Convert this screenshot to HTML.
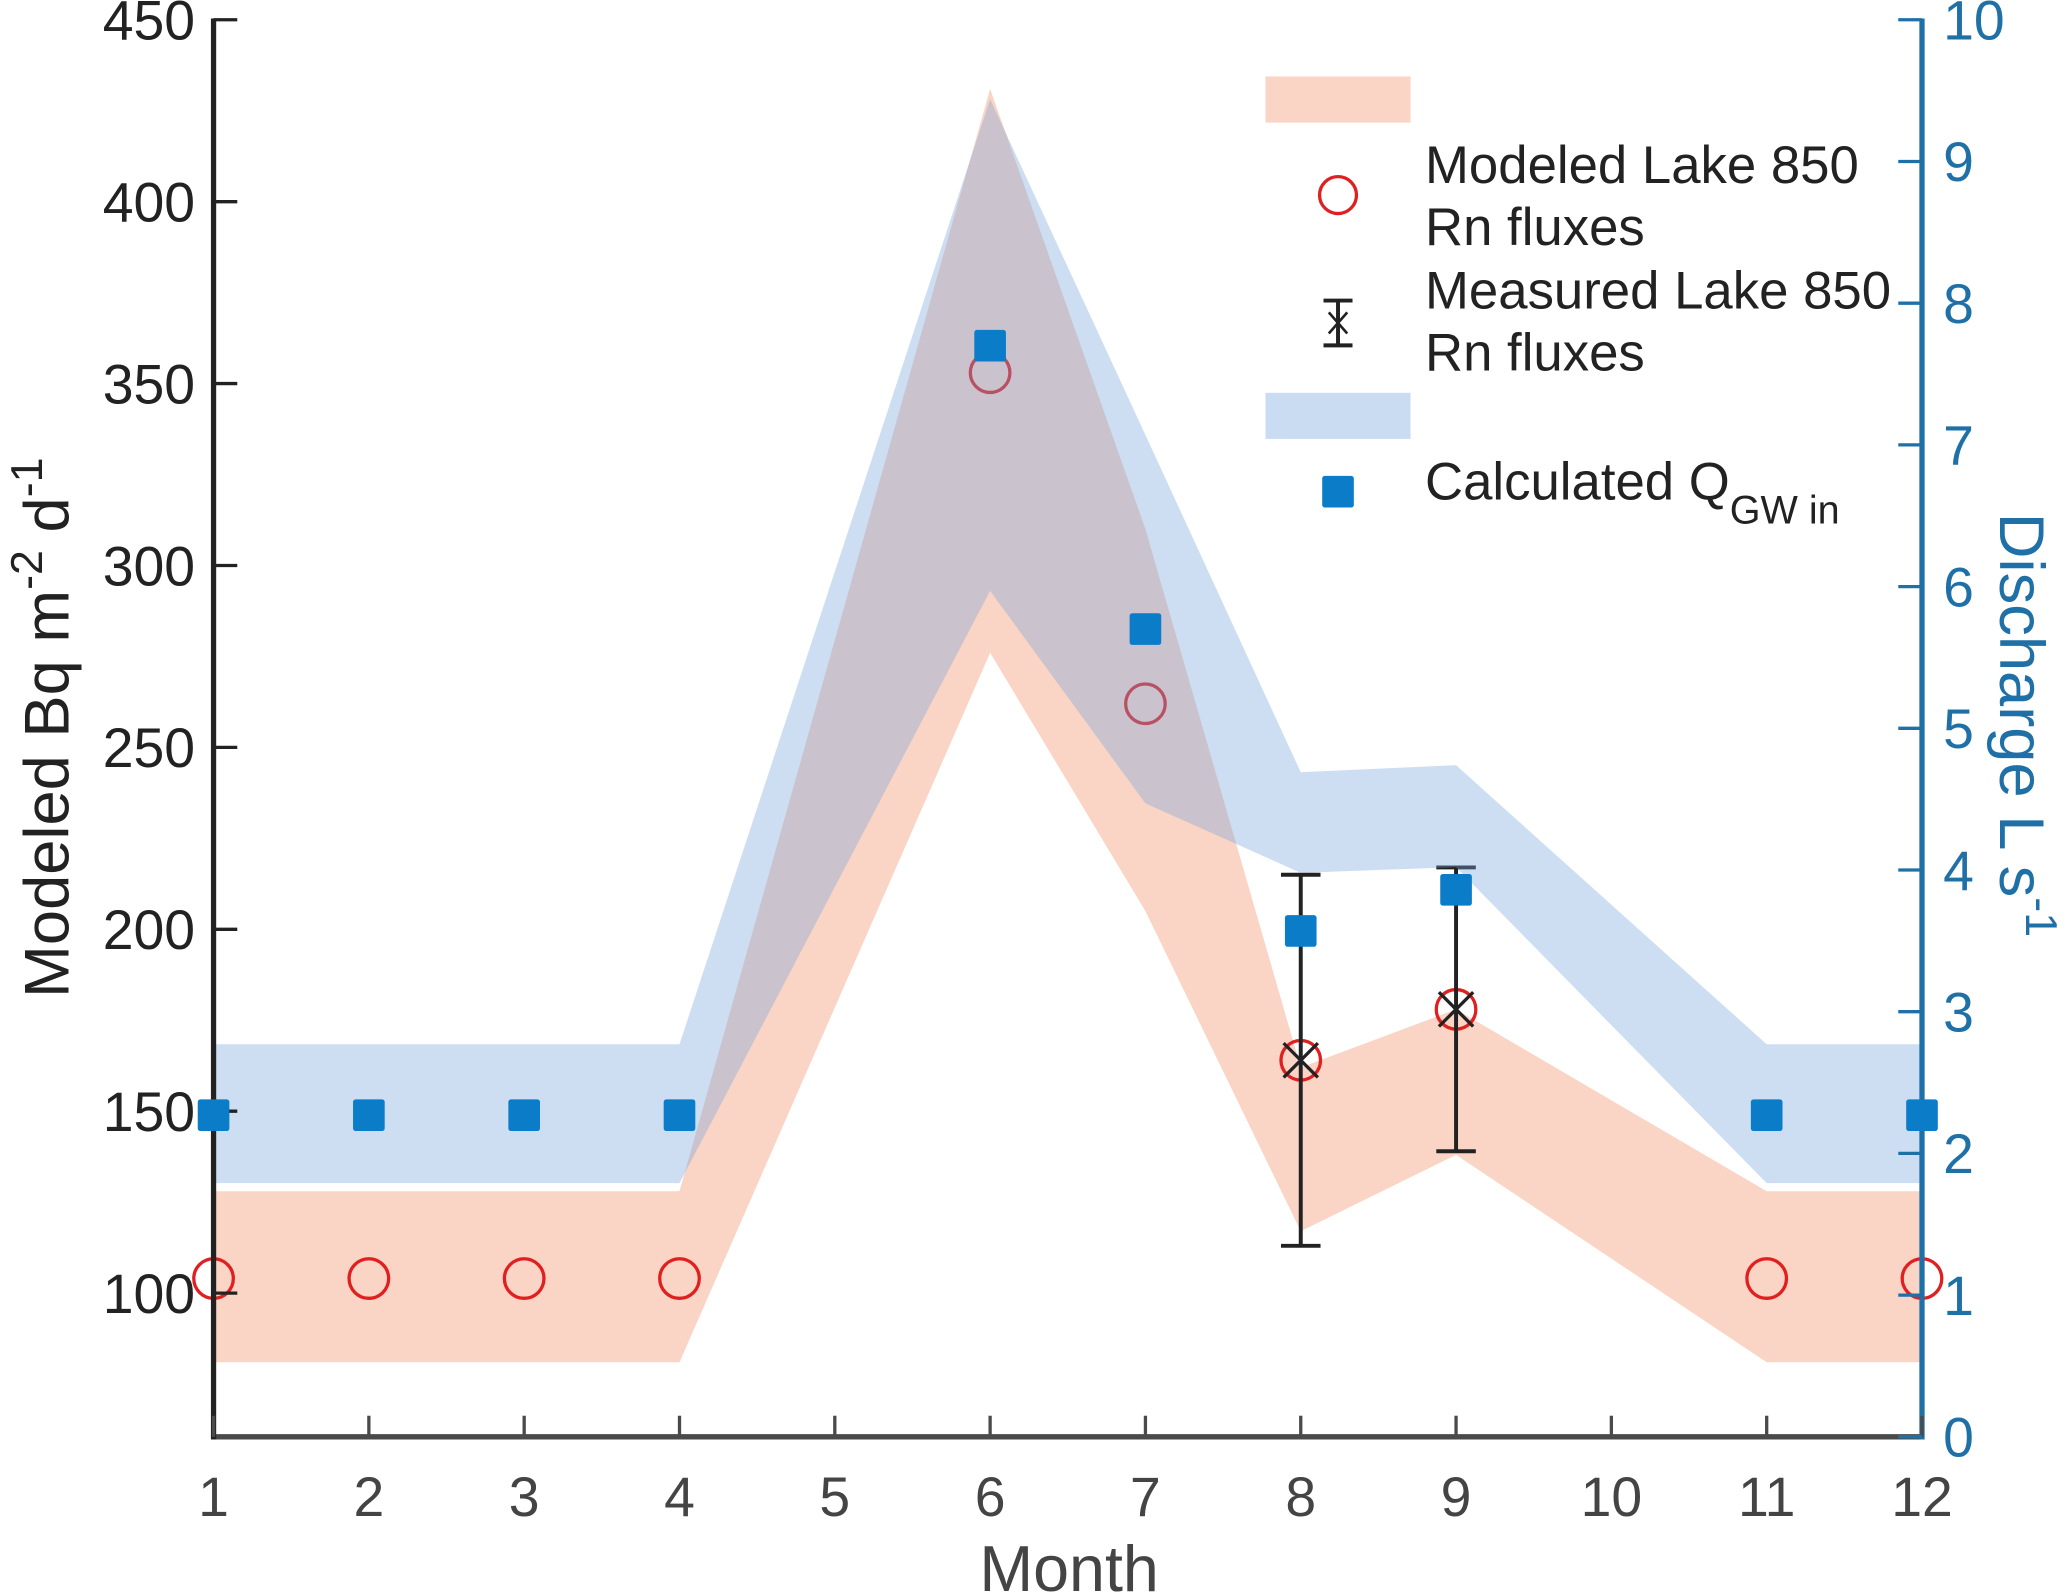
<!DOCTYPE html>
<html><head><meta charset="utf-8"><style>
html,body{margin:0;padding:0;background:#fff;}
svg{display:block;font-family:"Liberation Sans",sans-serif;}
</style></head><body>
<svg id="chart" width="2067" height="1595" viewBox="0 0 1568 1210" preserveAspectRatio="none" xmlns="http://www.w3.org/2000/svg"></svg>
<script>
const months=[1,2,3,4,6,7,8,9,11,12];
const orangeLo=[81,81,81,81,276,205,117,138,81,81];
const orangeHi=[128,128,128,128,431,310,162,178,128,128];
const blueLo=[1.79,1.79,1.79,1.79,5.97,4.47,3.98,4.02,1.79,1.79];
const blueHi=[2.77,2.77,2.77,2.77,9.44,7.07,4.69,4.74,2.77,2.77];
const modeled=[104,104,104,104,353,262,164,178,104,104];
const qgw=[2.27,2.27,2.27,2.27,7.70,5.70,3.57,3.86,2.27,2.27];
const measMonths=[8,9];
const measVal=[164,178];
const measLo=[113,139];
const measHi=[215,217];
const xTicks=[1,2,3,4,5,6,7,8,9,10,11,12];
const yLeftTicks=[100,150,200,250,300,350,400,450];
const yRightTicks=[0,1,2,3,4,5,6,7,8,9,10];

const X0=162,X1=1458,YT=15,YB=1090;
const LMIN=60.5,LMAX=450;
const x=m=>X0+(m-1)/11*(X1-X0);
const yl=v=>YB-(v-LMIN)/(LMAX-LMIN)*(YB-YT);
const yr=v=>YB-v/10*(YB-YT);
const svg=document.getElementById('chart');
const NS='http://www.w3.org/2000/svg';
function mk(tag,attrs,parent){const e=document.createElementNS(NS,tag);for(const k in attrs)e.setAttribute(k,attrs[k]);(parent||svg).appendChild(e);return e;}
function band(lo,hi,f){return months.map((m,i)=>x(m)+','+f(hi[i])).concat(months.slice().reverse().map((m,j)=>{const i=months.length-1-j;return x(m)+','+f(lo[i]);})).join(' ');}

// orange band
let ob=mk('polygon',{points:band(orangeLo,orangeHi,yl),fill:'rgb(245,160,125)','fill-opacity':0.45});


// circles
months.forEach((m,i)=>{
  const c=mk('circle',{cx:x(m),cy:yl(modeled[i]),r:15,fill:'none',stroke:'#e02020','stroke-width':2.5});
  
  
});
// error bars
measMonths.forEach((m,i)=>{
  const g=mk('g',{});
  
  
  const cx=x(m);
  mk('line',{x1:cx,y1:yl(measLo[i]),x2:cx,y2:yl(measHi[i]),stroke:'#222','stroke-width':3},g);
  mk('line',{x1:cx-15,y1:yl(measLo[i]),x2:cx+15,y2:yl(measLo[i]),stroke:'#222','stroke-width':3},g);
  mk('line',{x1:cx-15,y1:yl(measHi[i]),x2:cx+15,y2:yl(measHi[i]),stroke:'#222','stroke-width':3},g);
  const yy=yl(measVal[i]);
  mk('path',{d:`M${cx-13} ${yy-13}L${cx+13} ${yy+13}M${cx-13} ${yy+13}L${cx+13} ${yy-13}`,stroke:'#222','stroke-width':2.5},g);
});
// blue band
let bb=mk('polygon',{points:band(blueLo,blueHi,yr),fill:'rgb(120,165,220)','fill-opacity':0.37});



// axes
mk('line',{x1:X0,y1:YB,x2:X1,y2:YB,stroke:'#4a4a4a','stroke-width':4});
mk('line',{x1:X0,y1:YT-1,x2:X0,y2:YB+2,stroke:'#222','stroke-width':4});
mk('line',{x1:X1,y1:YT-1,x2:X1,y2:YB+2,stroke:'#2070a8','stroke-width':4});
xTicks.forEach(t=>{
  mk('line',{x1:x(t),y1:YB,x2:x(t),y2:YB-16,stroke:'#4a4a4a','stroke-width':2.5});
  const tx=mk('text',{x:x(t),y:YB+60,'text-anchor':'middle','font-size':42,fill:'#444'});tx.textContent=t;
  
  
});
yLeftTicks.forEach(t=>{
  mk('line',{x1:X0,y1:yl(t),x2:X0+18,y2:yl(t),stroke:'#222','stroke-width':2.5});
  const tx=mk('text',{x:X0-14,y:yl(t)+15,'text-anchor':'end','font-size':42,fill:'#222'});tx.textContent=t;
  
  
});
yRightTicks.forEach(t=>{
  mk('line',{x1:X1,y1:yr(t),x2:X1-18,y2:yr(t),stroke:'#2070a8','stroke-width':2.5});
  const tx=mk('text',{x:X1+16,y:yr(t)+15,'text-anchor':'start','font-size':42,fill:'#2070a8'});tx.textContent=t;
  
  
});
// squares
months.forEach((m,i)=>{
  const r=mk('rect',{x:x(m)-12,y:yr(qgw[i])-12,width:24,height:24,rx:2,fill:'#0a7cc8'});
  
  
});
</script>
<svg style="position:absolute;left:0;top:0" width="2067" height="1595" viewBox="0 0 1568 1210" preserveAspectRatio="none" xmlns="http://www.w3.org/2000/svg" font-family="Liberation Sans, sans-serif">
 <text x="811" y="1207" text-anchor="middle" font-size="49" fill="#444">Month</text>
 <text transform="translate(52,552) rotate(-90)" text-anchor="middle" font-size="48" fill="#222">Modeled Bq m<tspan dy="-20" font-size="34">-2</tspan><tspan dy="20"> d</tspan><tspan dy="-20" font-size="34">-1</tspan></text>
 <text transform="translate(1517,550) rotate(90)" text-anchor="middle" font-size="48" fill="#2070a8">Discharge L s<tspan dy="-20" font-size="34">-1</tspan></text>
 <g>
  <rect x="960" y="58" width="110" height="35" fill="#fad4c4"/>
  <circle cx="1015" cy="148" r="14" fill="none" stroke="#e02020" stroke-width="2.5"/>
  <text x="1081" y="139" font-size="40" fill="#222">Modeled Lake 850</text>
  <text x="1081" y="186" font-size="40" fill="#222">Rn fluxes</text>
  <g stroke="#222" stroke-width="3">
   <line x1="1015" y1="228" x2="1015" y2="262"/><line x1="1004" y1="228" x2="1026" y2="228"/><line x1="1004" y1="262" x2="1026" y2="262"/>
   <path d="M1008 237L1022 253M1008 253L1022 237" stroke-width="2"/>
  </g>
  <text x="1081" y="234" font-size="40" fill="#222">Measured Lake 850</text>
  <text x="1081" y="281" font-size="40" fill="#222">Rn fluxes</text>
  <rect x="960" y="298" width="110" height="35" fill="#c9dcf1"/>
  <rect x="1003" y="361" width="24" height="24" rx="2" fill="#0a7cc8"/>
  <text x="1081" y="379" font-size="40" fill="#222">Calculated Q<tspan dy="18" font-size="30">GW in</tspan></text>
 </g>
</svg>
</body></html>
